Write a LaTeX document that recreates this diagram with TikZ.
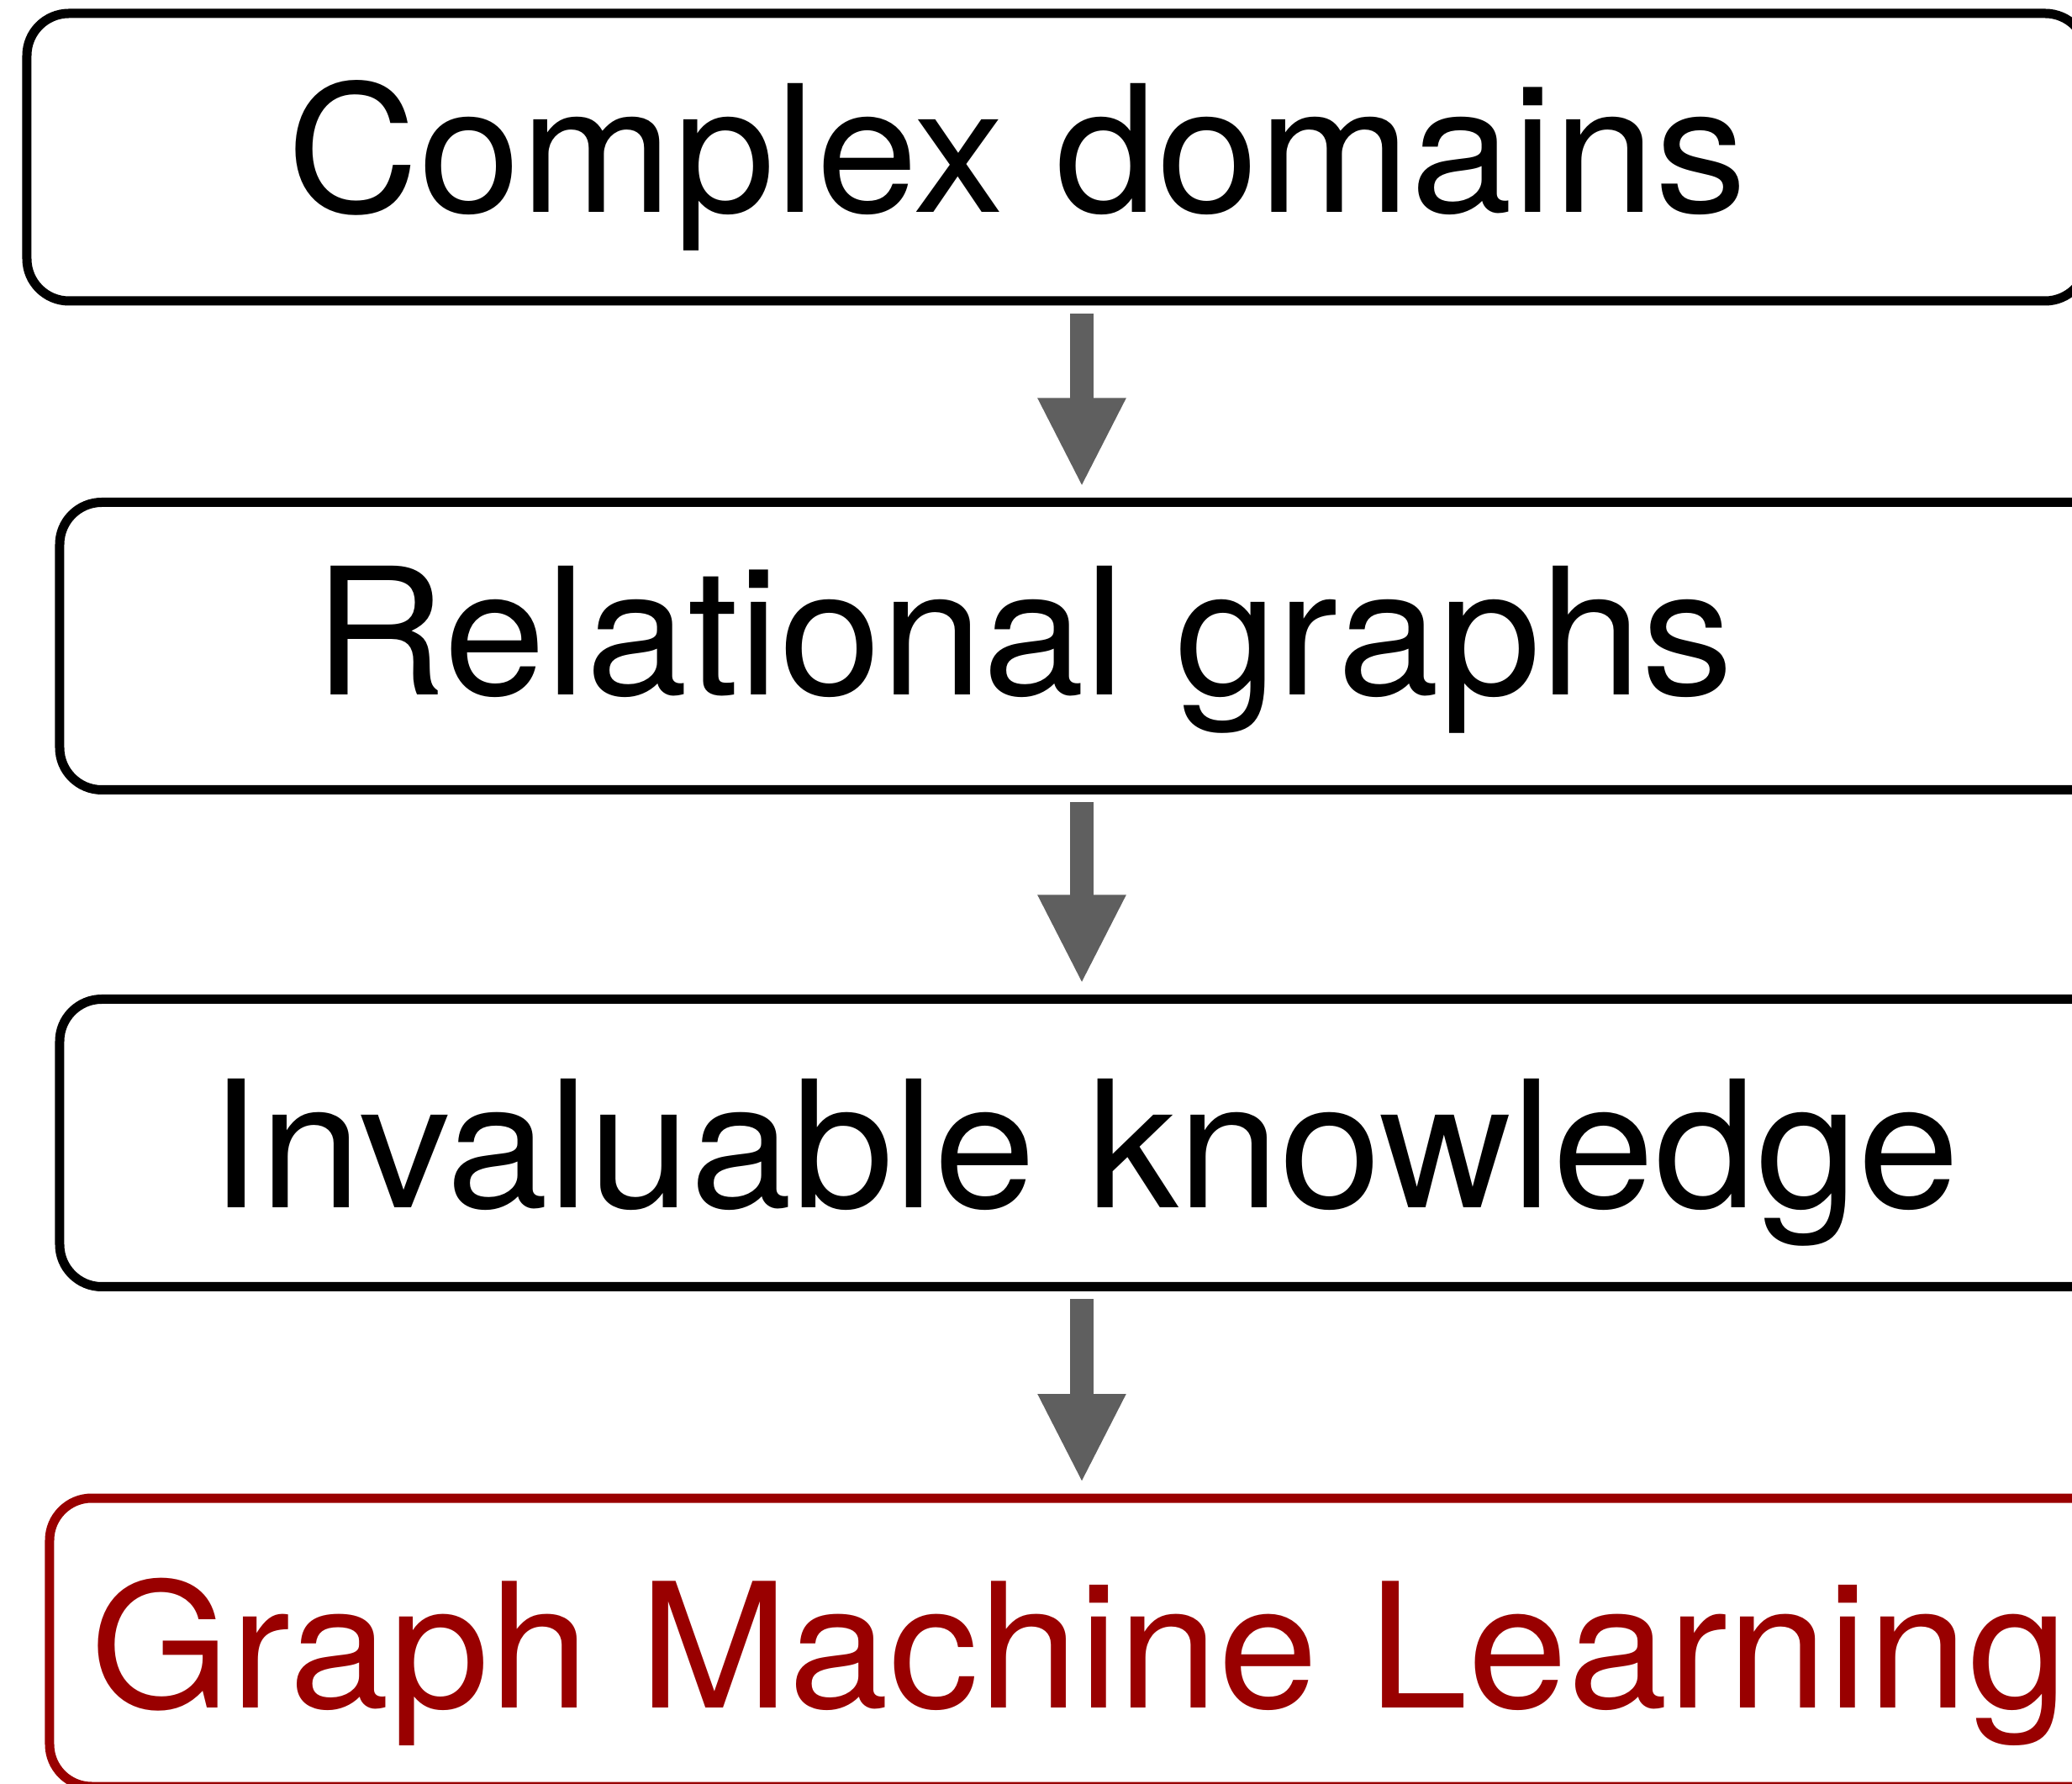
\documentclass[tikz,border=0pt]{standalone}
\usepackage{fontspec}
\setmainfont[FakeStretch=1.035]{TeX Gyre Heros}
\usetikzlibrary{arrows.meta,positioning}

\definecolor{gmlred}{HTML}{990000}
\definecolor{flowgray}{HTML}{5F5F5F}

\tikzset{
	stage/.style={draw, line width=0.11cm, rounded corners=0.5cm, inner sep=0pt, outer sep=0pt, minimum height=3.42cm},
	caption/.style={anchor=base, inner sep=0pt, font=\fontsize{59.8}{72}\selectfont},
	flow/.style={draw=flowgray, line width=0.28cm, -{Triangle[length=1.06cm,width=0.97cm]}, shorten <=0.15cm, shorten >=0.18cm}
}

\begin{document}
\begin{tikzpicture}
		\useasboundingbox (0, 0) rectangle (24.65, 21.21);

		\node[stage, minimum width=24.51cm] (domains) at (12.575, 19.34) {};
		\node[stage, minimum width=24.69cm] (graphs) at (13.055, 13.525) {};
		\node[stage, minimum width=24.69cm] (knowledge) at (13.055, 7.615) {};
		\node[stage, draw=gmlred, minimum width=24.81cm, minimum height=3.43cm] (gml) at (12.995, 1.675) {};

		\node[caption] (domainsText) at (12.10, 18.68) {Complex domains};
		\node[caption] (graphsText) at (12.18, 12.94) {Relational graphs};
		\node[caption] (knowledgeText) at (12.90, 6.84) {Invaluable knowledge};
		\node[caption, text=gmlred, font=\fontsize{58.8}{72}\selectfont] (gmlText) at (12.84, 0.90) {Graph Machine Learning};

		\coordinate (spine) at (12.87, 0);
		\draw[flow] (domains.south -| spine) -- (graphs.north -| spine);
		\draw[flow] (graphs.south -| spine) -- (knowledge.north -| spine);
		\draw[flow] (knowledge.south -| spine) -- (gml.north -| spine);
	\end{tikzpicture}
\end{document}
